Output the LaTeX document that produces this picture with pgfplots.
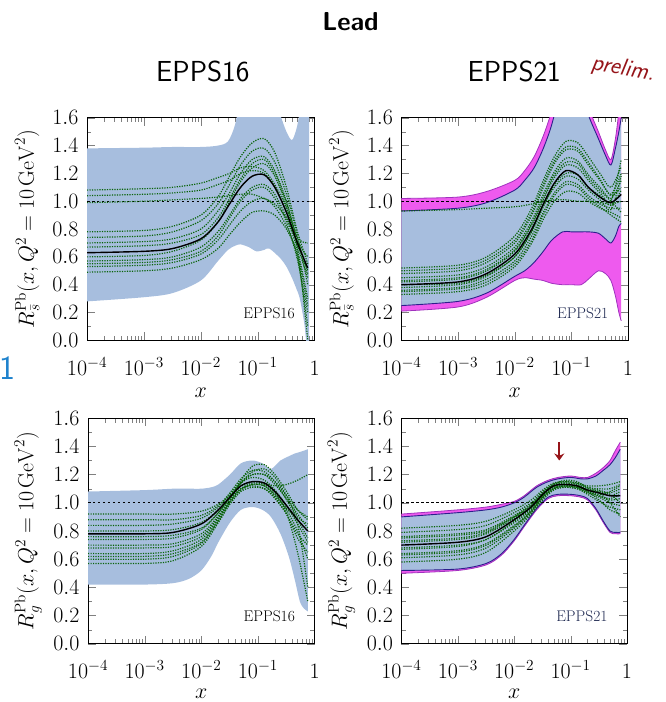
\RequirePackage{fix-cm}
\documentclass[border=0pt]{standalone}
\usepackage{pgfplots}
\pgfplotsset{compat=1.18}
\usepackage{pgfplotstable}
\usepgfplotslibrary{fillbetween}
\usetikzlibrary{arrows.meta}

\definecolor{bandblue}{RGB}{167,190,222}
\definecolor{bandmag}{RGB}{238,90,238}
\definecolor{edgeblue}{RGB}{45,30,140}
\definecolor{edgemag}{RGB}{160,50,190}
\definecolor{grn}{RGB}{10,100,10}
\definecolor{darkred}{RGB}{150,20,25}
\definecolor{slideblue}{RGB}{30,130,205}
\definecolor{labnavy}{RGB}{30,40,80}

% ---------- Top left: EPPS16 strange ----------
\pgfplotstableread{
x      u     l
1e-4   1.38  0.28
1e-3   1.385 0.31
0.0032 1.39  0.34
0.01   1.39  0.43
0.02   1.40  0.57
0.03   1.43  0.65
0.04   1.55  0.68
0.05   1.75  0.69
0.07   1.95  0.67
0.095  2.00  0.64
0.13   1.95  0.65
0.16   1.85  0.66
0.25   1.62  0.59
0.32   1.50  0.53
0.4    1.44  0.45
0.48   1.52  0.37
0.55   1.65  0.30
0.66   1.90  0.12
0.72   2.00  -0.02
0.8    2.00  -0.10
}\TLband
\pgfplotstableread{
x      c    e1   e2   e3   e4   e5   e6   e7   e8   e9   e10  e11  e12
1e-4   0.63 1.08 1.04 0.99 0.78 0.74 0.70 0.57 0.53 0.49 0.60 0.67 0.55
1e-3   0.64 1.09 1.05 1.00 0.79 0.75 0.71 0.58 0.54 0.50 0.61 0.68 0.56
0.0032 0.66 1.10 1.06 1.01 0.82 0.78 0.73 0.60 0.56 0.52 0.64 0.70 0.58
0.01   0.73 1.13 1.08 1.02 0.90 0.86 0.80 0.67 0.62 0.58 0.72 0.76 0.64
0.02   0.85 1.17 1.12 1.03 1.03 0.98 0.93 0.78 0.72 0.66 0.85 0.88 0.75
0.032  0.98 1.20 1.15 1.04 1.18 1.12 1.06 0.90 0.83 0.76 1.00 1.02 0.88
0.05   1.10 1.24 1.20 1.05 1.32 1.26 1.20 1.02 0.93 0.85 1.14 1.16 1.00
0.08   1.18 1.25 1.22 1.05 1.42 1.36 1.30 1.10 1.00 0.92 1.24 1.27 1.08
0.13   1.19 1.22 1.20 1.02 1.45 1.38 1.32 1.12 1.02 0.93 1.27 1.30 1.10
0.2    1.10 1.12 1.10 0.98 1.35 1.28 1.22 1.05 0.96 0.90 1.18 1.20 1.02
0.32   0.92 0.95 0.92 0.88 1.10 1.05 1.00 0.88 0.82 0.80 0.96 0.99 0.85
0.5    0.70 0.72 0.68 0.70 0.78 0.75 0.72 0.65 0.60 0.62 0.66 0.74 0.58
0.76   0.52 0.50 0.45 0.48 0.55 0.40 0.60 0.30 0.10 0.25 0.00 0.70 0.20
}\TLmem

% ---------- Top right: EPPS21 strange ----------
\pgfplotstableread{
x      uo    u     l     lo
1e-4   1.02  0.93  0.25  0.21
1e-3   1.03  0.95  0.28  0.24
0.0032 1.07  0.99  0.34  0.31
0.01   1.15  1.08  0.46  0.43
0.015  1.22  1.15  0.50  0.45
0.022  1.32  1.24  0.56  0.44
0.032  1.47  1.38  0.64  0.43
0.045  1.65  1.55  0.72  0.41
0.07   1.95  1.85  0.78  0.40
0.1    2.10  2.00  0.78  0.40
0.15   1.90  1.80  0.78  0.40
0.2    1.68  1.62  0.78  0.44
0.3    1.50  1.45  0.77  0.50
0.4    1.37  1.33  0.73  0.48
0.5    1.30  1.26  0.70  0.43
0.6    1.45  1.38  0.75  0.32
0.69   1.65  1.50  0.82  0.20
0.76   1.90  1.60  0.84  0.14
}\TRband
\pgfplotstableread{
x      c    e1   e2   e3   e4   e5   e6   e7   e8   e9   e10  e11  e12
1e-4   0.40 0.93 0.52 0.48 0.45 0.36 0.33 0.38 0.42 0.35 0.50 0.43 0.40
1e-3   0.42 0.94 0.54 0.50 0.47 0.38 0.35 0.40 0.44 0.37 0.52 0.45 0.41
0.0032 0.48 0.95 0.60 0.56 0.53 0.44 0.40 0.46 0.50 0.42 0.58 0.51 0.47
0.01   0.62 0.96 0.75 0.70 0.67 0.57 0.53 0.60 0.64 0.55 0.72 0.65 0.60
0.02   0.80 0.98 0.95 0.90 0.86 0.75 0.70 0.78 0.83 0.72 0.92 0.84 0.79
0.032  0.98 1.00 1.15 1.10 1.05 0.92 0.87 0.96 1.01 0.90 1.12 1.03 0.97
0.05   1.13 1.01 1.32 1.27 1.21 1.06 1.00 1.12 1.17 1.04 1.29 1.19 1.10
0.08   1.22 1.01 1.43 1.37 1.31 1.14 1.07 1.20 1.26 1.12 1.39 1.28 1.18
0.13   1.19 1.00 1.42 1.36 1.29 1.12 1.06 1.19 1.24 1.10 1.38 1.27 1.16
0.2    1.10 1.00 1.32 1.26 1.19 1.04 1.00 1.10 1.15 1.02 1.28 1.17 1.08
0.32   1.03 0.99 1.20 1.15 1.10 0.98 0.95 1.04 1.06 0.96 1.16 1.08 1.01
0.5    0.99 0.98 1.10 1.05 1.02 0.95 0.92 0.97 1.00 0.90 1.04 1.00 0.94
0.76   1.05 1.00 1.25 1.20 1.15 0.95 0.88 1.08 1.30 0.85 1.10 0.92 1.18
}\TRmem

% ---------- Bottom left: EPPS16 gluon ----------
\pgfplotstableread{
x      u     l
1e-4   1.08  0.42
1e-3   1.09  0.42
0.0032 1.10  0.43
0.006  1.10  0.46
0.01   1.10  0.52
0.015  1.11  0.62
0.02   1.13  0.72
0.032  1.20  0.86
0.05   1.28  0.95
0.08   1.30  0.97
0.12   1.28  0.95
0.17   1.24  0.90
0.25   1.30  0.78
0.35   1.33  0.62
0.45   1.35  0.45
0.55   1.36  0.30
0.65   1.37  0.25
0.76   1.38  0.23
}\BLband
\pgfplotstableread{
x      c    e1   e2   e3   e4   e5   e6   e7   e8   e9   e10  e11  e12
1e-4   0.78 0.92 0.88 0.84 0.74 0.70 0.64 0.60 0.57 0.80 0.68 0.76 0.62
1e-3   0.78 0.92 0.88 0.84 0.74 0.70 0.64 0.60 0.57 0.80 0.68 0.76 0.62
0.0032 0.79 0.92 0.88 0.85 0.75 0.71 0.66 0.62 0.59 0.81 0.69 0.77 0.64
0.01   0.85 0.94 0.91 0.89 0.81 0.78 0.74 0.71 0.69 0.86 0.76 0.82 0.72
0.02   0.95 0.99 0.98 0.97 0.93 0.91 0.89 0.87 0.86 0.95 0.90 0.93 0.88
0.032  1.04 1.05 1.07 1.06 1.04 1.02 1.01 1.00 0.99 1.04 1.02 1.03 1.01
0.05   1.12 1.14 1.17 1.15 1.14 1.10 1.10 1.09 1.08 1.12 1.14 1.10 1.16
0.08   1.15 1.20 1.23 1.20 1.18 1.13 1.14 1.13 1.11 1.15 1.22 1.12 1.26
0.13   1.14 1.20 1.22 1.20 1.16 1.12 1.13 1.12 1.10 1.14 1.24 1.10 1.27
0.2    1.08 1.15 1.15 1.13 1.09 1.05 1.07 1.06 1.04 1.12 1.18 1.03 1.20
0.32   0.98 1.05 1.02 1.03 0.98 0.95 0.93 0.96 0.92 1.13 1.05 0.92 1.08
0.5    0.88 0.95 0.88 0.92 0.85 0.80 0.65 0.85 0.75 1.16 0.90 0.78 0.95
0.76   0.80 0.90 0.75 0.82 0.72 0.60 0.30 0.40 0.65 1.20 0.85 0.70 0.88
}\BLmem

% ---------- Bottom right: EPPS21 gluon ----------
\pgfplotstableread{
x      uo    u     l     lo
1e-4   0.92  0.90  0.52  0.50
1e-3   0.95  0.93  0.53  0.52
0.0032 0.97  0.95  0.57  0.56
0.006  0.99  0.97  0.64  0.63
0.01   1.01  1.00  0.74  0.73
0.015  1.05  1.04  0.84  0.83
0.025  1.12  1.11  0.96  0.95
0.04   1.16  1.15  1.04  1.03
0.06   1.18  1.17  1.06  1.05
0.1    1.19  1.18  1.06  1.05
0.15   1.18  1.17  1.05  1.04
0.2    1.18  1.17  1.03  1.02
0.28   1.21  1.19  0.96  0.95
0.38   1.25  1.23  0.87  0.86
0.5    1.30  1.27  0.80  0.79
0.62   1.37  1.32  0.79  0.78
0.76   1.43  1.38  0.79  0.78
}\BRband
\pgfplotstableread{
x      c    e1   e2   e3   e4   e5   e6   e7   e8   e9   e10  e11  e12
1e-4   0.70 0.82 0.79 0.76 0.64 0.61 0.58 0.73 0.67 0.72 0.68 0.75 0.63
1e-3   0.72 0.84 0.81 0.78 0.66 0.63 0.60 0.75 0.69 0.74 0.70 0.77 0.65
0.0032 0.76 0.87 0.84 0.81 0.71 0.68 0.65 0.79 0.74 0.78 0.74 0.80 0.70
0.01   0.88 0.95 0.93 0.91 0.84 0.82 0.80 0.90 0.86 0.89 0.87 0.90 0.83
0.02   0.97 1.02 1.00 0.99 0.94 0.93 0.92 0.98 0.95 0.97 0.96 0.98 0.94
0.032  1.06 1.09 1.08 1.07 1.04 1.03 1.02 1.07 1.05 1.06 1.05 1.06 1.04
0.05   1.12 1.14 1.13 1.13 1.10 1.10 1.09 1.13 1.11 1.12 1.11 1.12 1.10
0.08   1.13 1.15 1.15 1.14 1.11 1.12 1.11 1.16 1.12 1.13 1.12 1.14 1.12
0.13   1.12 1.14 1.14 1.13 1.10 1.11 1.10 1.15 1.11 1.12 1.11 1.13 1.11
0.2    1.09 1.12 1.11 1.10 1.07 1.08 1.06 1.11 1.08 1.09 1.09 1.10 1.08
0.32   1.07 1.12 1.09 1.08 1.04 1.02 1.01 1.10 1.05 1.06 1.07 1.08 1.05
0.5    1.05 1.13 1.07 1.05 1.00 0.95 0.97 1.10 1.02 1.08 1.00 1.06 1.03
0.76   1.05 1.15 1.10 1.08 0.98 0.92 0.95 1.13 1.03 1.12 0.90 1.00 1.06
}\BRmem

\tikzset{
  member/.style={grn, line width=1.2pt, dash pattern=on 1.2pt off 1.3pt, smooth, tension=0.5},
  central/.style={black, line width=1.4pt, smooth, tension=0.5},
  unity/.style={black, line width=0.7pt, dash pattern=on 2.5pt off 2.5pt},
  inlab/.style={font=\fontsize{15.5}{18}\selectfont},
  bnd/.style={smooth, tension=0.5},
}

\begin{document}
\begin{tikzpicture}

\node[font=\sffamily\bfseries\fontsize{26}{30}\selectfont] at (351pt,680pt) {Lead};
\node[font=\sffamily\fontsize{29}{34}\selectfont] at (203pt,630pt) {EPPS16};
\node[font=\sffamily\fontsize{29}{34}\selectfont] at (515pt,630pt) {EPPS21};
\node[font=\sffamily\slshape\fontsize{24}{28}\selectfont, text=darkred, rotate=-10, inner sep=1pt] at (624pt,633pt) {prelim.};
\node[font=\sffamily\fontsize{34}{40}\selectfont, text=slideblue, anchor=base east, inner sep=0pt] at (16pt,322pt) {1};

% ===== Top left =====
\begin{axis}[scale only axis, anchor=south west, at={(87pt,361pt)}, width=228pt, height=223pt,
  xmode=log, xmin=1e-4, xmax=1, ymin=0, ymax=1.6,
  xtick={1e-4,1e-3,1e-2,1e-1,1},
  xticklabels={$10^{-4}$,$10^{-3}$,$10^{-2}$,$10^{-1}$,$1$},
  ytick={0,0.2,0.4,0.6,0.8,1.0,1.2,1.4,1.6}, minor y tick num=1,
  y tick label style={/pgf/number format/fixed, /pgf/number format/fixed zerofill, /pgf/number format/precision=1},
  tick label style={font=\fontsize{22}{26}\selectfont},
  label style={font=\fontsize{22}{26}\selectfont},
  xticklabel style={anchor=base, yshift=-35pt},
  yticklabel style={xshift=-5pt},
  xlabel style={at={([yshift=-57pt]axis description cs:0.5,0)}, anchor=base},
  ylabel style={at={([xshift=-60pt]axis description cs:0,0.5)}, anchor=center},
  xlabel={$x$}, major tick length=8pt, minor tick length=4.5pt,
  axis line style={line width=0.9pt},
  ylabel={$R_{\bar{s}}^{\mathrm{Pb}}(x,Q^2=10\,\mathrm{GeV}^2)$}]
\addplot[name path=U, draw=none, bnd] table[x=x,y=u]{\TLband};
\addplot[name path=L, draw=none, bnd] table[x=x,y=l]{\TLband};
\addplot[bandblue] fill between[of=U and L];
\addplot[unity] coordinates {(1e-4,1) (1,1)};
\pgfplotsinvokeforeach{1,...,12}{\addplot[member] table[x=x,y=e#1]{\TLmem};}
\addplot[central] table[x=x,y=c]{\TLmem};
\node[inlab] at (rel axis cs:0.80,0.12) {EPPS16};
\end{axis}

% ===== Top right =====
\begin{axis}[scale only axis, anchor=south west, at={(402pt,361pt)}, width=227pt, height=223pt,
  xmode=log, xmin=1e-4, xmax=1, ymin=0, ymax=1.6,
  xtick={1e-4,1e-3,1e-2,1e-1,1},
  xticklabels={$10^{-4}$,$10^{-3}$,$10^{-2}$,$10^{-1}$,$1$},
  ytick={0,0.2,0.4,0.6,0.8,1.0,1.2,1.4,1.6}, minor y tick num=1,
  y tick label style={/pgf/number format/fixed, /pgf/number format/fixed zerofill, /pgf/number format/precision=1},
  tick label style={font=\fontsize{22}{26}\selectfont},
  label style={font=\fontsize{22}{26}\selectfont},
  xticklabel style={anchor=base, yshift=-35pt},
  yticklabel style={xshift=-5pt},
  xlabel style={at={([yshift=-57pt]axis description cs:0.5,0)}, anchor=base},
  ylabel style={at={([xshift=-60pt]axis description cs:0,0.5)}, anchor=center},
  xlabel={$x$}, major tick length=8pt, minor tick length=4.5pt,
  axis line style={line width=0.9pt},
  ylabel={$R_{\bar{s}}^{\mathrm{Pb}}(x,Q^2=10\,\mathrm{GeV}^2)$}]
\addplot[name path=UO, draw=none, bnd] table[x=x,y=uo]{\TRband};
\addplot[name path=LO, draw=none, bnd] table[x=x,y=lo]{\TRband};
\addplot[bandmag] fill between[of=UO and LO];
\addplot[name path=U, draw=none, bnd] table[x=x,y=u]{\TRband};
\addplot[name path=L, draw=none, bnd] table[x=x,y=l]{\TRband};
\addplot[bandblue] fill between[of=U and L];
\addplot[edgemag, line width=0.8pt, bnd] table[x=x,y=uo]{\TRband};
\addplot[edgemag, line width=0.8pt, bnd] table[x=x,y=lo]{\TRband};
\addplot[edgeblue, line width=0.9pt, bnd] table[x=x,y=u]{\TRband};
\addplot[edgeblue, line width=0.9pt, bnd] table[x=x,y=l]{\TRband};
\addplot[unity] coordinates {(1e-4,1) (1,1)};
\pgfplotsinvokeforeach{1,...,12}{\addplot[member] table[x=x,y=e#1]{\TRmem};}
\addplot[central] table[x=x,y=c]{\TRmem};
\node[inlab, text=labnavy] at (rel axis cs:0.80,0.12) {EPPS21};
\end{axis}

% ===== Bottom left =====
\begin{axis}[scale only axis, anchor=south west, at={(88pt,57pt)}, width=227pt, height=226pt,
  xmode=log, xmin=1e-4, xmax=1, ymin=0, ymax=1.6,
  xtick={1e-4,1e-3,1e-2,1e-1,1},
  xticklabels={$10^{-4}$,$10^{-3}$,$10^{-2}$,$10^{-1}$,$1$},
  ytick={0,0.2,0.4,0.6,0.8,1.0,1.2,1.4,1.6}, minor y tick num=1,
  y tick label style={/pgf/number format/fixed, /pgf/number format/fixed zerofill, /pgf/number format/precision=1},
  tick label style={font=\fontsize{22}{26}\selectfont},
  label style={font=\fontsize{22}{26}\selectfont},
  xticklabel style={anchor=base, yshift=-35pt},
  yticklabel style={xshift=-5pt},
  xlabel style={at={([yshift=-55pt]axis description cs:0.5,0)}, anchor=base},
  ylabel style={at={([xshift=-60pt]axis description cs:0,0.5)}, anchor=center},
  xlabel={$x$}, major tick length=8pt, minor tick length=4.5pt,
  axis line style={line width=0.9pt},
  ylabel={$R_{g}^{\mathrm{Pb}}(x,Q^2=10\,\mathrm{GeV}^2)$}]
\addplot[name path=U, draw=none, bnd] table[x=x,y=u]{\BLband};
\addplot[name path=L, draw=none, bnd] table[x=x,y=l]{\BLband};
\addplot[bandblue] fill between[of=U and L];
\addplot[unity] coordinates {(1e-4,1) (1,1)};
\pgfplotsinvokeforeach{1,...,12}{\addplot[member] table[x=x,y=e#1]{\BLmem};}
\addplot[central] table[x=x,y=c]{\BLmem};
\node[inlab] at (rel axis cs:0.80,0.12) {EPPS16};
\end{axis}

% ===== Bottom right =====
\begin{axis}[scale only axis, anchor=south west, at={(402pt,57pt)}, width=226pt, height=226pt,
  xmode=log, xmin=1e-4, xmax=1, ymin=0, ymax=1.6,
  xtick={1e-4,1e-3,1e-2,1e-1,1},
  xticklabels={$10^{-4}$,$10^{-3}$,$10^{-2}$,$10^{-1}$,$1$},
  ytick={0,0.2,0.4,0.6,0.8,1.0,1.2,1.4,1.6}, minor y tick num=1,
  y tick label style={/pgf/number format/fixed, /pgf/number format/fixed zerofill, /pgf/number format/precision=1},
  tick label style={font=\fontsize{22}{26}\selectfont},
  label style={font=\fontsize{22}{26}\selectfont},
  xticklabel style={anchor=base, yshift=-35pt},
  yticklabel style={xshift=-5pt},
  xlabel style={at={([yshift=-55pt]axis description cs:0.5,0)}, anchor=base},
  ylabel style={at={([xshift=-60pt]axis description cs:0,0.5)}, anchor=center},
  xlabel={$x$}, major tick length=8pt, minor tick length=4.5pt,
  axis line style={line width=0.9pt},
  ylabel={$R_{g}^{\mathrm{Pb}}(x,Q^2=10\,\mathrm{GeV}^2)$}]
\addplot[name path=UO, draw=none, bnd] table[x=x,y=uo]{\BRband};
\addplot[name path=LO, draw=none, bnd] table[x=x,y=lo]{\BRband};
\addplot[bandmag] fill between[of=UO and LO];
\addplot[name path=U, draw=none, bnd] table[x=x,y=u]{\BRband};
\addplot[name path=L, draw=none, bnd] table[x=x,y=l]{\BRband};
\addplot[bandblue] fill between[of=U and L];
\addplot[edgemag, line width=0.8pt, bnd] table[x=x,y=uo]{\BRband};
\addplot[edgemag, line width=0.8pt, bnd] table[x=x,y=lo]{\BRband};
\addplot[edgeblue, line width=0.9pt, bnd] table[x=x,y=u]{\BRband};
\addplot[edgeblue, line width=0.9pt, bnd] table[x=x,y=l]{\BRband};
\addplot[unity] coordinates {(1e-4,1) (1,1)};
\pgfplotsinvokeforeach{1,...,12}{\addplot[member] table[x=x,y=e#1]{\BRmem};}
\addplot[central] table[x=x,y=c]{\BRmem};
\draw[darkred, line width=2.2pt, -{Stealth[length=7pt,width=10pt]}] (axis cs:0.063,1.43) -- (axis cs:0.063,1.30);
\node[inlab, text=labnavy] at (rel axis cs:0.80,0.12) {EPPS21};
\end{axis}

\path (0,0) rectangle (667pt,702pt);
\end{tikzpicture}
\end{document}
